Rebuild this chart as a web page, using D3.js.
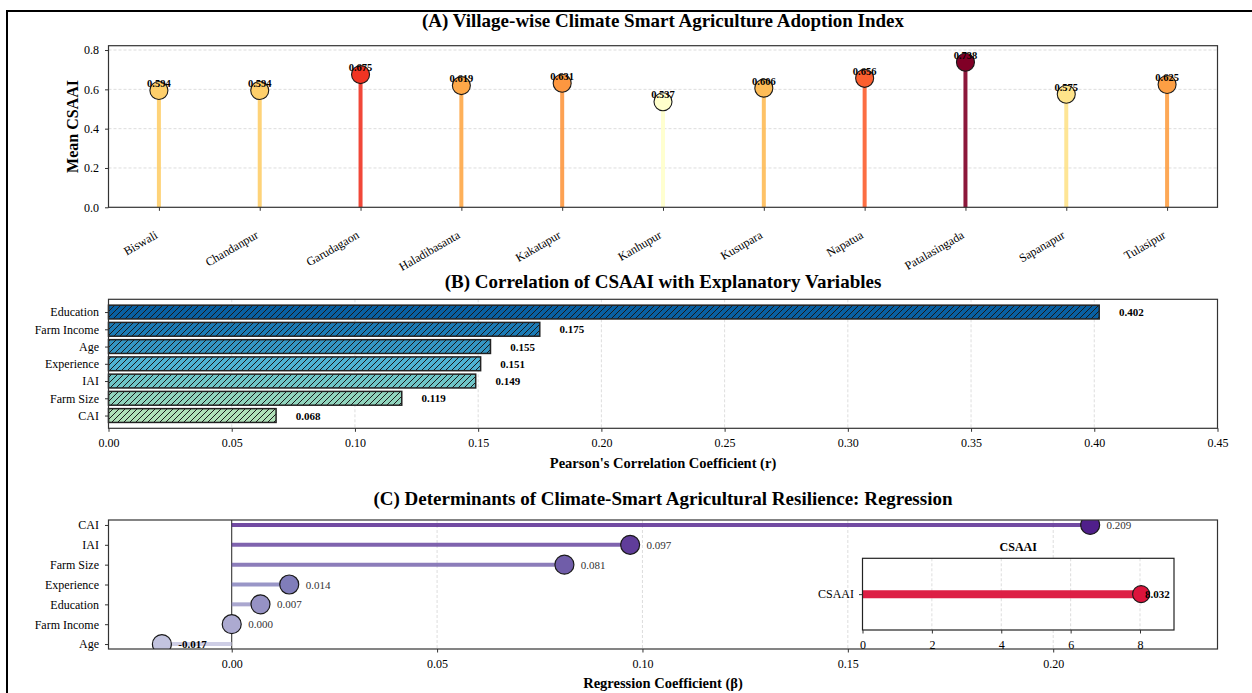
<!DOCTYPE html>
<html><head><meta charset="utf-8">
<script src="https://cdn.jsdelivr.net/npm/d3@7"></script>
<style>
body{margin:0;background:#fff}
svg text{font-family:"Liberation Serif","Times New Roman",serif;fill:#000}
</style>
</head><body><svg id="c" width="1252" height="693"></svg>
<script>
// ---------- data ----------
const villages = ["Biswali","Chandanpur","Garudagaon","Haladibasanta","Kakatapur","Kanhupur","Kusupara","Napatua","Patalasingada","Sapanapur","Tulasipur"];
const csaaiMeans = [0.594,0.594,0.675,0.619,0.631,0.537,0.606,0.656,0.738,0.575,0.625];
const corrVars = ["CAI","Farm Size","IAI","Experience","Age","Farm Income","Education"];
const corrVals = [0.068,0.119,0.149,0.151,0.155,0.175,0.402];
const regVars = ["Age","Farm Income","Education","Experience","Farm Size","IAI","CAI"];
const regVals = [-0.017,0.000,0.007,0.014,0.081,0.097,0.209];
const insetVars = ["CSAAI"];
const insetVals = [8.032];
const ticksA = [0,0.2,0.4,0.6,0.8];
const ticksB = [0,0.05,0.10,0.15,0.20,0.25,0.30,0.35,0.40,0.45];
const ticksC = [0,0.05,0.10,0.15,0.20];
const ticksInset = [0,2,4,6,8];
const titles = ["(A) Village-wise Climate Smart Agriculture Adoption Index",
  "(B) Correlation of CSAAI with Explanatory Variables",
  "(C) Determinants of Climate-Smart Agricultural Resilience: Regression"];

// ---------- helpers ----------
function mplCmap(colors){
  return d3.scaleLinear().domain(colors.map((c,i)=>i/(colors.length-1))).range(colors).interpolate(d3.interpolateRgb).clamp(true);
}
const YlOrRd = mplCmap(['#ffffcc','#ffeda0','#fed976','#feb24c','#fd8d3c','#fc4e2a','#e31a1c','#bd0026','#800026']);
const GnBu = mplCmap(['#f7fcf0','#e0f3db','#ccebc5','#a8ddb5','#7bccc4','#4eb3d3','#2b8cbe','#0868ac','#084081']);
const Purples = mplCmap(['#fcfbfd','#efedf5','#dadaeb','#bcbddc','#9e9ac8','#807dba','#6a51a3','#54278f','#3f007d']);

const svg = d3.select("#c");
const L = 108.5, R = 1217.5;
const SPINE = "#333";
const GRID = "#d4d4d4";

const defs = svg.append("defs");
const pat = defs.append("pattern").attr("id","hatch").attr("patternUnits","userSpaceOnUse")
  .attr("width",6).attr("height",6);
pat.append("path").attr("d","M-1,1 l2,-2 M0,6 l6,-6 M5,7 l2,-2").attr("stroke","#1a1a1a").attr("stroke-width",1);

function styleAxis(g, size){
  g.attr("font-family",null);
  g.select(".domain").remove();
  g.selectAll(".tick line").attr("stroke",SPINE).attr("stroke-width",1);
  g.selectAll(".tick text").attr("font-size",size||12).attr("fill","#111");
}
function spines(x0,y0,x1,y1){
  svg.append("rect").attr("x",x0).attr("y",y0).attr("width",x1-x0).attr("height",y1-y0)
    .attr("fill","none").attr("stroke",SPINE).attr("stroke-width",1.2);
}
function title(t,y){
  svg.append("text").attr("x",(L+R)/2).attr("y",y).attr("text-anchor","middle")
    .attr("font-size",19).attr("font-weight","bold").text(t);
}

// ---------- figure frame ----------
svg.append("rect").attr("x",7).attr("y",11).attr("width",1300).attr("height",800)
  .attr("fill","none").attr("stroke","#000").attr("stroke-width",2);

// ---------- Panel A ----------
const aTop = 45.7, aBot = 207.3;
const xA = d3.scalePoint().domain(villages).range([L,R]).padding(0.5);
const yA = d3.scaleLinear().domain([0,0.822]).range([aBot,aTop]);
const vMin = d3.min(csaaiMeans), vMax = d3.max(csaaiMeans);
const colA = v => YlOrRd((v-vMin)/(vMax-vMin));

title(titles[0],27);
svg.append("g").selectAll("line").data(ticksA.slice(1)).join("line")
  .attr("x1",L).attr("x2",R).attr("y1",d=>yA(d)).attr("y2",d=>yA(d))
  .attr("stroke",GRID).attr("stroke-width",0.8).attr("stroke-dasharray","3,2");
const gA = svg.append("g");
gA.selectAll("line.stem").data(villages).join("line").attr("class","stem")
  .attr("x1",d=>xA(d)).attr("x2",d=>xA(d)).attr("y1",yA(0)).attr("y2",(d,i)=>yA(csaaiMeans[i]))
  .attr("stroke",(d,i)=>colA(csaaiMeans[i])).attr("stroke-width",4).attr("opacity",0.9);
gA.selectAll("circle").data(villages).join("circle")
  .attr("cx",d=>xA(d)).attr("cy",(d,i)=>yA(csaaiMeans[i])).attr("r",9)
  .attr("fill",(d,i)=>colA(csaaiMeans[i])).attr("stroke","#1a1a1a").attr("stroke-width",1.1);
gA.selectAll("text").data(villages).join("text")
  .attr("x",d=>xA(d)).attr("y",(d,i)=>yA(csaaiMeans[i])-3.5).attr("text-anchor","middle")
  .attr("font-size",10.5).attr("font-weight","bold").text((d,i)=>csaaiMeans[i].toFixed(3));
spines(L,aTop,R,aBot);
const axA = svg.append("g").attr("transform",`translate(0,${aBot})`)
  .call(d3.axisBottom(xA).tickSize(3.5).tickPadding(7));
styleAxis(axA,12);
axA.selectAll(".tick text").attr("text-anchor","end").attr("dy",null).attr("y",null)
  .attr("transform","translate(-1,30) rotate(-30)");
const ayA = svg.append("g").attr("transform",`translate(${L},0)`)
  .call(d3.axisLeft(yA).tickValues(ticksA).tickFormat(d3.format(".1f")).tickSize(3.5).tickPadding(6));
styleAxis(ayA,12);
svg.append("text").attr("transform",`translate(77.5,${(aTop+aBot)/2}) rotate(-90)`)
  .attr("text-anchor","middle").attr("font-size",16).attr("font-weight","bold").text("Mean CSAAI");

// ---------- Panel B ----------
const bTop = 299.3, bBot = 428.3;
const xB = d3.scaleLinear().domain([0,0.45]).range([L,R]);
const yB = d3.scaleLinear().domain([-0.74,6.74]).range([bBot,bTop]);
const unitB = yB(0)-yB(1);
const colB = i => GnBu(0.35 + i*(0.9-0.35)/(corrVars.length-1));

title(titles[1],288);
svg.append("g").selectAll("line").data(ticksB.slice(1,-1)).join("line")
  .attr("x1",d=>xB(d)).attr("x2",d=>xB(d)).attr("y1",bTop).attr("y2",bBot)
  .attr("stroke",GRID).attr("stroke-width",0.8).attr("stroke-dasharray","3,2");
const gB = svg.append("g");
gB.selectAll("rect.bar").data(corrVars).join("rect").attr("class","bar")
  .attr("x",xB(0)).attr("y",(d,i)=>yB(i)-0.4*unitB).attr("height",0.8*unitB)
  .attr("width",(d,i)=>xB(corrVals[i])-xB(0)).attr("fill",(d,i)=>colB(i));
gB.selectAll("rect.hatch").data(corrVars).join("rect").attr("class","hatch")
  .attr("x",xB(0)).attr("y",(d,i)=>yB(i)-0.4*unitB).attr("height",0.8*unitB)
  .attr("width",(d,i)=>xB(corrVals[i])-xB(0)).attr("fill","url(#hatch)")
  .attr("stroke","#222").attr("stroke-width",1.5);
gB.selectAll("text").data(corrVars).join("text")
  .attr("x",(d,i)=>xB(corrVals[i]+0.008)).attr("y",(d,i)=>yB(i)+4)
  .attr("font-size",11).attr("font-weight","bold").text((d,i)=>corrVals[i].toFixed(3));
spines(L,bTop,R,bBot);
const axB = svg.append("g").attr("transform",`translate(0,${bBot})`)
  .call(d3.axisBottom(xB).tickValues(ticksB).tickFormat(d3.format(".2f")).tickSize(3.5).tickPadding(7));
styleAxis(axB,12);
const ayB = svg.append("g").attr("transform",`translate(${L},0)`)
  .call(d3.axisLeft(yB).tickValues(d3.range(corrVars.length)).tickFormat(i=>corrVars[i]).tickSize(3.5).tickPadding(6));
styleAxis(ayB,12);
svg.append("text").attr("x",(L+R)/2).attr("y",468).attr("text-anchor","middle")
  .attr("font-size",14.5).attr("font-weight","bold").text("Pearson's Correlation Coefficient (r)");

// ---------- Panel C ----------
const cTop = 520, cBot = 649;
const xC = d3.scaleLinear().domain([-0.030,0.240]).range([L,R]);
const yC = d3.scaleLinear().domain([-0.25,6.25]).range([cBot,cTop]);
const colC = i => Purples(0.35 + i*(0.9-0.35)/(regVars.length-1));

title(titles[2],505);
defs.append("clipPath").attr("id","clipC").append("rect")
  .attr("x",L).attr("y",cTop).attr("width",R-L).attr("height",cBot-cTop);
svg.append("g").selectAll("line").data(ticksC.slice(1)).join("line")
  .attr("x1",d=>xC(d)).attr("x2",d=>xC(d)).attr("y1",cTop).attr("y2",cBot)
  .attr("stroke",GRID).attr("stroke-width",0.8).attr("stroke-dasharray","3,2");
svg.append("line").attr("x1",xC(0)).attr("x2",xC(0)).attr("y1",cTop).attr("y2",cBot)
  .attr("stroke","#222").attr("stroke-width",1);
const gC = svg.append("g").attr("clip-path","url(#clipC)");
gC.selectAll("line").data(regVars).join("line")
  .attr("x1",xC(0)).attr("x2",(d,i)=>xC(regVals[i])).attr("y1",(d,i)=>yC(i)).attr("y2",(d,i)=>yC(i))
  .attr("stroke",(d,i)=>colC(i)).attr("stroke-width",4).attr("opacity",0.8);
gC.selectAll("circle").data(regVars).join("circle")
  .attr("cx",(d,i)=>xC(regVals[i])).attr("cy",(d,i)=>yC(i)).attr("r",9.5)
  .attr("fill",(d,i)=>colC(i)).attr("stroke","#1a1a1a").attr("stroke-width",1.2);
svg.append("g").selectAll("text").data(regVars).join("text")
  .attr("x",(d,i)=>xC(regVals[i]+0.004)).attr("y",(d,i)=>yC(i)+4)
  .attr("font-size",11).attr("font-weight",(d,i)=>regVals[i]<0?"bold":"normal")
  .style("fill",(d,i)=>regVals[i]<0?"#000":"#333")
  .text((d,i)=>regVals[i].toFixed(3));
spines(L,cTop,R,cBot);
const axC = svg.append("g").attr("transform",`translate(0,${cBot})`)
  .call(d3.axisBottom(xC).tickValues(ticksC).tickFormat(d3.format(".2f")).tickSize(3.5).tickPadding(7));
styleAxis(axC,12);
const ayC = svg.append("g").attr("transform",`translate(${L},0)`)
  .call(d3.axisLeft(yC).tickValues(d3.range(regVars.length)).tickFormat(i=>regVars[i]).tickSize(3.5).tickPadding(6));
styleAxis(ayC,12);
svg.append("text").attr("x",(L+R)/2).attr("y",688).attr("text-anchor","middle")
  .attr("font-size",14.5).attr("font-weight","bold").text("Regression Coefficient (β)");

// ---------- Inset ----------
const iL = 862.5, iR = 1174, iTop = 558.3, iBot = 630;
const xI = d3.scaleLinear().domain([0,8.98]).range([iL,iR]);
const yI = d3.scalePoint().domain(insetVars).range([iTop,iBot]).padding(0.5);
svg.append("rect").attr("x",iL).attr("y",iTop).attr("width",iR-iL).attr("height",iBot-iTop).attr("fill","#fff");
svg.append("g").selectAll("line").data(ticksInset.slice(1)).join("line")
  .attr("x1",d=>xI(d)).attr("x2",d=>xI(d)).attr("y1",iTop).attr("y2",iBot)
  .attr("stroke",GRID).attr("stroke-width",0.8).attr("stroke-dasharray","3,2");
const gI = svg.append("g");
gI.selectAll("line").data(insetVars).join("line")
  .attr("x1",xI(0)).attr("x2",(d,i)=>xI(insetVals[i])).attr("y1",d=>yI(d)).attr("y2",d=>yI(d))
  .attr("stroke","#dc143c").attr("stroke-width",8).attr("opacity",0.95);
gI.selectAll("circle").data(insetVars).join("circle")
  .attr("cx",(d,i)=>xI(insetVals[i])).attr("cy",d=>yI(d)).attr("r",8.5)
  .attr("fill","#dc143c").attr("stroke","#1a1a1a").attr("stroke-width",1.1);
gI.selectAll("text").data(insetVars).join("text")
  .attr("x",(d,i)=>xI(insetVals[i])+4).attr("y",d=>yI(d)+3.8)
  .attr("font-size",11).attr("font-weight","bold").text((d,i)=>insetVals[i].toFixed(3));
svg.append("rect").attr("x",iL).attr("y",iTop).attr("width",iR-iL).attr("height",iBot-iTop)
  .attr("fill","none").attr("stroke","#222").attr("stroke-width",1.2);
const axI = svg.append("g").attr("transform",`translate(0,${iBot})`)
  .call(d3.axisBottom(xI).tickValues(ticksInset).tickFormat(d3.format("d")).tickSize(3.5).tickPadding(7));
styleAxis(axI,12);
const ayI = svg.append("g").attr("transform",`translate(${iL},0)`)
  .call(d3.axisLeft(yI).tickSize(3.5).tickPadding(5));
styleAxis(ayI,12);
svg.append("text").attr("x",(iL+iR)/2).attr("y",550.5).attr("text-anchor","middle")
  .attr("font-size",12).attr("font-weight","bold").text("CSAAI");
</script>
</body></html>
